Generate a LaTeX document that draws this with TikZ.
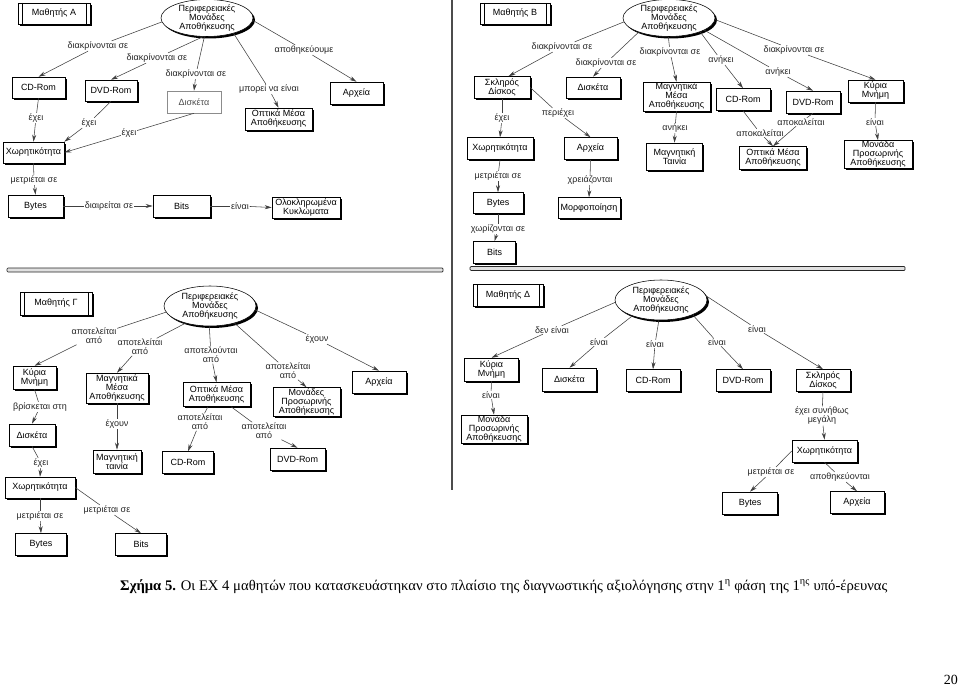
\documentclass[tikz,border=0pt]{standalone}
\usepackage{fontspec}
\setmainfont{Liberation Serif}
\newfontfamily\diagfont{Liberation Sans}
\usetikzlibrary{shapes.geometric,shadows,arrows.meta}
\begin{document}
\begin{tikzpicture}[x=1pt,y=-1pt,
  txt/.style={font=\diagfont\fontsize{9}{9}\selectfont},
  boxbase/.style 2 args={draw=black, line width=0.55pt, fill=white, align=center, inner sep=0pt, minimum width=#1, minimum height=#2, txt},
  box/.style 2 args={boxbase={#1}{#2}, drop shadow={shadow xshift=1.7pt, shadow yshift=-1.7pt, fill=black, opacity=1}},
  lbox/.style 2 args={boxbase={#1}{#2}, draw=black!45, text=black!70, drop shadow={shadow xshift=1.4pt, shadow yshift=-1.4pt, fill=black!45, opacity=1}},
  stud/.style 2 args={box={#1}{#2}, path picture={
     \draw[line width=0.55pt] ([xshift=4pt]path picture bounding box.north west) -- ([xshift=4pt]path picture bounding box.south west);
     \draw[line width=0.55pt] ([xshift=-4pt]path picture bounding box.north east) -- ([xshift=-4pt]path picture bounding box.south east);}},
  ell/.style={ellipse, draw=black, line width=0.55pt, fill=white, inner sep=-1.5pt, minimum width=92, minimum height=37, align=center, txt,
     drop shadow={shadow xshift=2pt, shadow yshift=-2pt, fill=black, opacity=1}},
  lbl/.style={fill=white, inner sep=0.6pt, align=center, txt, text=black!85},
  conn/.style={draw=black!75, line width=0.55pt},
  arr/.style={conn, -{Stealth[length=7pt,width=4pt]}}
]
\useasboundingbox (0,0) rectangle (960,687);
\fill[white] (0,0) rectangle (960,687);

% ---------- separators ----------
\draw[line width=2pt, black!70] (452,0) -- (452,490);
\filldraw[fill=black!12, draw=black!85, line width=0.7pt, rounded corners=1pt] (7,268) rectangle (443,272);
\filldraw[fill=black!12, draw=black!85, line width=0.7pt, rounded corners=1pt] (470,266.5) rectangle (905,270.5);

% ================= Panel A =================
\node[stud={72}{21}] (sA) at (54,13.5) {Μαθητής Α};
\node[ell] (eA) at (207,18) {Περιφερειακές\\Μονάδες\\Αποθήκευσης};
\node[box={53}{21}] (cdA) at (38.5,87.5) {CD-Rom};
\node[box={52}{21}] (dvdA) at (111,90.5) {DVD-Rom};
\node[lbox={54}{22}] (disA) at (194,102) {Δισκέτα};
\node[box={53}{22}] (arxA) at (356.5,93) {Αρχεία};
\node[box={67}{22}] (optA) at (278.5,119) {Οπτικά Μέσα\\Αποθήκευσης};
\node[box={61}{21}] (xwrA) at (33.5,152.5) {Χωρητικότητα};
\node[box={55}{22}] (bytesA) at (35.5,206) {Bytes};
\node[box={57}{22}] (bitsA) at (181.5,206) {Bits};
\node[box={68}{21}] (oloA) at (306,207.5) {Ολοκληρωμένα\\Κυκλώματα};

\node[lbl] (lA1) at (98,46) {διακρίνονται σε};
\node[lbl] (lA2) at (157,58) {διακρίνονται σε};
\node[lbl] (lA3) at (196,74) {διακρίνονται σε};
\node[lbl] (lA4) at (304,50) {αποθηκεύουμε};
\node[lbl] (lA5) at (269,89) {μπορεί να είναι};
\node[lbl] (lA6) at (36,118) {έχει};
\node[lbl] (lA7) at (89,123) {έχει};
\node[lbl] (lA8) at (129,133) {έχει};
\node[lbl] (lA9) at (34,180) {μετριέται σε};
\node[lbl] (lA10) at (109,206) {διαιρείται σε};
\node[lbl] (lA11) at (240,206) {είναι};

\draw[conn] (eA.185) -- (lA1); \draw[arr] (lA1) -- (cdA.north);
\draw[conn] (eA.258) -- (lA2); \draw[arr] (lA2) -- (dvdA.north);
\draw[conn] (eA.262) -- (lA3); \draw[arr] (lA3) -- (disA.north);
\draw[conn] (eA.357) -- (lA4); \draw[arr] (lA4) -- (arxA.north);
\draw[conn] (eA.330) -- (lA5); \draw[arr] (lA5) -- (optA.north);
\draw[conn] (cdA.south) -- (lA6); \draw[arr] (lA6) -- (xwrA.north);
\draw[conn] (dvdA.south) -- (lA7); \draw[arr] (lA7) -- (xwrA.north east);
\draw[conn] (disA.south) -- (lA8); \draw[arr] (lA8) -- (xwrA.east);
\draw[conn] (xwrA.south) -- (lA9); \draw[arr] (lA9) -- (bytesA.north);
\draw[conn] (bytesA.east) -- (lA10); \draw[arr] (lA10) -- (bitsA.west);
\draw[conn] (bitsA.east) -- (lA11); \draw[arr] (lA11) -- (oloA.west);

% ================= Panel B =================
\node[stud={70}{21}] (sB) at (515,13.5) {Μαθητής Β};
\node[ell] (eB) at (669,18) {Περιφερειακές\\Μονάδες\\Αποθήκευσης};
\node[box={56}{22}] (sklB) at (502,87.5) {Σκληρός\\Δίσκος};
\node[box={54}{21}] (disB) at (593,87.5) {Δισκέτα};
\node[box={67}{29}] (magB) at (676.5,96.5) {Μαγνητικά\\Μέσα\\Αποθήκευσης};
\node[box={54}{22}] (cdB) at (743,99.5) {CD-Rom};
\node[box={54}{22}] (dvdB) at (813,102) {DVD-Rom};
\node[box={55}{22}] (kmB) at (875.5,91) {Κύρια\\Μνήμη};
\node[box={67}{23}] (optB) at (773,158) {Οπτικά Μέσα\\Αποθήκευσης};
\node[box={68}{28}] (monB) at (878,154.5) {Μονάδα\\Προσωρινής\\Αποθήκευσης};
\node[box={56}{27}] (tainB) at (674.5,156.5) {Μαγνητική\\Ταινία};
\node[box={66}{22}] (xwrB) at (500,148.5) {Χωρητικότητα};
\node[box={53}{22}] (arxB) at (590.5,148.5) {Αρχεία};
\node[box={50}{21}] (bytesB) at (498,203) {Bytes};
\node[box={62}{21}] (morB) at (589,208) {Μορφοποίηση};
\node[box={42}{22}] (bitsB) at (494.5,252.5) {Bits};

\node[lbl] (lB1) at (562,47) {διακρίνονται σε};
\node[lbl] (lB2) at (606,63) {διακρίνονται σε};
\node[lbl] (lB3) at (670,52) {διακρίνονται σε};
\node[lbl] (lB4) at (721,60) {ανήκει};
\node[lbl] (lB5) at (778,72) {ανήκει};
\node[lbl] (lB6) at (794,50) {διακρίνονται σε};
\node[lbl] (lB7) at (675,128) {ανήκει};
\node[lbl] (lB8) at (760,133) {αποκαλείται};
\node[lbl] (lB9) at (801,122) {αποκαλείται};
\node[lbl] (lB10) at (875,122) {είναι};
\node[lbl] (lB11) at (502,118) {έχει};
\node[lbl] (lB12) at (558,113) {περιέχει};
\node[lbl] (lB13) at (498,176) {μετριέται σε};
\node[lbl] (lB14) at (590,180) {χρειάζονται};
\node[lbl] (lB15) at (498,229) {χωρίζονται σε};

\draw[conn] (eB.185) -- (lB1); \draw[arr] (lB1) -- (sklB.60);
\draw[conn] (eB.205) -- (lB2); \draw[arr] (lB2) -- (disB.north);
\draw[conn] (eB.268) -- (lB3); \draw[arr] (lB3) -- (magB.north);
\draw[conn] (eB.336) -- (lB4); \draw[arr] (lB4) -- (cdB.north);
\draw[conn] (eB.341) -- (lB5); \draw[arr] (lB5) -- (dvdB.north);
\draw[conn] (eB.358) -- (lB6); \draw[arr] (lB6) -- (kmB.north);
\draw[conn] (magB.south) -- (lB7); \draw[arr] (lB7) -- (tainB.north);
\draw[conn] (cdB.south) -- (lB8); \draw[arr] (lB8) -- (optB.north);
\draw[conn] (dvdB.south) -- (lB9); \draw[arr] (lB9) -- (optB.north);
\draw[conn] (kmB.south) -- (lB10); \draw[arr] (lB10) -- (monB.north);
\draw[conn] (sklB.south) -- (lB11); \draw[arr] (lB11) -- (xwrB.north);
\draw[conn] (sklB.east) -- (lB12); \draw[arr] (lB12) -- (arxB.north);
\draw[conn] (xwrB.south) -- (lB13); \draw[arr] (lB13) -- (bytesB.north);
\draw[conn] (arxB.south) -- (lB14); \draw[arr] (lB14) -- (morB.north);
\draw[conn] (bytesB.south) -- (lB15); \draw[arr] (lB15) -- (bitsB.north);

% ================= Panel C =================
\node[stud={72}{23}] (sC) at (56,303.5) {Μαθητής Γ};
\node[ell, minimum height=40] (eC) at (210,306) {Περιφερειακές\\Μονάδες\\Αποθήκευσης};
\node[box={43}{23}] (kmC) at (34.5,377.5) {Κύρια\\Μνήμη};
\node[box={62}{30}] (magC) at (117,388) {Μαγνητικά\\Μέσα\\Αποθήκευσης};
\node[box={67}{24}] (optC) at (216.5,394.5) {Οπτικά Μέσα\\Αποθήκευσης};
\node[box={67}{29}] (monC) at (306.5,402) {Μονάδες\\Προσωρινής\\Αποθήκευσης};
\node[box={54}{22}] (arxC) at (379,382) {Αρχεία};
\node[box={46}{22}] (disC) at (32,435) {Δισκέτα};
\node[box={70}{21}] (xwrC) at (40,487.5) {Χωρητικότητα};
\node[box={51}{22}] (bytesC) at (41,544.5) {Bytes};
\node[box={51}{22}] (bitsC) at (141,544.5) {Bits};
\node[box={48}{23}] (tainC) at (117,461.5) {Μαγνητική\\ταινία};
\node[box={51}{22}] (cdC) at (188,462.5) {CD-Rom};
\node[box={55}{22}] (dvdC) at (297.5,459) {DVD-Rom};

\node[lbl] (lC1) at (94,336) {αποτελείται\\από};
\node[lbl] (lC2) at (140,347) {αποτελείται\\από};
\node[lbl] (lC3) at (211,355) {αποτελούνται\\από};
\node[lbl] (lC4) at (288,371) {αποτελείται\\από};
\node[lbl] (lC5) at (317,339) {έχουν};
\node[lbl] (lC6) at (40,407) {βρίσκεται στη};
\node[lbl] (lC7) at (117,424) {έχουν};
\node[lbl] (lC8) at (41,463) {έχει};
\node[lbl] (lC9) at (200,422) {αποτελείται\\από};
\node[lbl] (lC10) at (264,431) {αποτελείται\\από};
\node[lbl] (lC11) at (40,516) {μετριέται σε};
\node[lbl] (lC12) at (107,510) {μετριέται σε};

\draw[conn] (eC.188) -- (lC1); \draw[arr] (lC1) -- (kmC.north);
\draw[conn] (eC.215) -- (lC2); \draw[arr] (lC2) -- (magC.north);
\draw[conn] (eC.268) -- (lC3); \draw[arr] (lC3) -- (optC.north);
\draw[conn] (eC.325) -- (lC4); \draw[arr] (lC4) -- (monC.north);
\draw[conn] (eC.355) -- (lC5); \draw[arr] (lC5) -- (arxC.north);
\draw[conn] (kmC.south) -- (lC6); \draw[arr] (lC6) -- (disC.north);
\draw[conn] (magC.south) -- (lC7); \draw[arr] (lC7) -- (tainC.north);
\draw[conn] (disC.south) -- (lC8); \draw[arr] (lC8) -- (xwrC.north);
\draw[conn] (optC.235) -- (lC9); \draw[arr] (lC9) -- (cdC.north);
\draw[conn] (optC.320) -- (lC10); \draw[arr] (lC10) -- (dvdC.north);
\draw[conn] (xwrC.south) -- (lC11); \draw[arr] (lC11) -- (bytesC.north);
\draw[conn] (xwrC.east) -- (lC12); \draw[arr] (lC12) -- (bitsC.north);

% ================= Panel D =================
\node[stud={70}{22}] (sD) at (508,295) {Μαθητής Δ};
\node[ell, minimum height=40] (eD) at (661,300) {Περιφερειακές\\Μονάδες\\Αποθήκευσης};
\node[box={54}{23}] (kmD) at (491.5,369.5) {Κύρια\\Μνήμη};
\node[box={66}{28}] (monD) at (494,429) {Μονάδα\\Προσωρινής\\Αποθήκευσης};
\node[box={54}{23}] (disD) at (569.5,379.5) {Δισκέτα};
\node[box={54}{22}] (cdD) at (653,380.5) {CD-Rom};
\node[box={54}{22}] (dvdD) at (743,380.5) {DVD-Rom};
\node[box={54}{22}] (sklD) at (823,380.5) {Σκληρός\\Δίσκος};
\node[box={65}{22}] (xwrD) at (824.5,451) {Χωρητικότητα};
\node[box={55}{22}] (bytesD) at (750,503) {Bytes};
\node[box={54}{22}] (arxD) at (857,502.5) {Αρχεία};

\node[lbl] (lD1) at (552,330) {δεν είναι};
\node[lbl] (lD2) at (491,395) {είναι};
\node[lbl] (lD3) at (599,342) {είναι};
\node[lbl] (lD4) at (655,344) {είναι};
\node[lbl] (lD5) at (717,342) {είναι};
\node[lbl] (lD6) at (757,329) {είναι};
\node[lbl] (lD7) at (822,416) {έχει συνήθως\\μεγάλη};
\node[lbl] (lD8) at (771,472) {μετριέται σε};
\node[lbl] (lD9) at (840,477) {αποθηκεύονται};

\draw[conn] (eD.183) -- (lD1); \draw[arr] (lD1) -- (kmD.north);
\draw[conn] (eD.209) -- (lD3); \draw[arr] (lD3) -- (disD.north);
\draw[conn] (eD.264) -- (lD4); \draw[arr] (lD4) -- (cdD.north);
\draw[conn] (eD.335) -- (lD5); \draw[arr] (lD5) -- (dvdD.north);
\draw[conn] (eD.5) -- (lD6); \draw[arr] (lD6) -- (sklD.north);
\draw[conn] (kmD.south) -- (lD2); \draw[arr] (lD2) -- (monD.north);
\draw[conn] (sklD.south) -- (lD7); \draw[arr] (lD7) -- (xwrD.north);
\draw[conn] (xwrD.west) -- (lD8); \draw[arr] (lD8) -- (bytesD.north);
\draw[conn] (xwrD.south) -- (lD9); \draw[arr] (lD9) -- (arxD.north);

% ================= Caption =================
\node[anchor=base west, inner sep=0pt, font=\fontsize{14.65}{16}\selectfont] (cap) at (120,590)
  {\textbf{Σχήμα 5.} Οι ΕΧ 4 μαθητών που κατασκευάστηκαν στο πλαίσιο της διαγνωστικής αξιολόγησης στην 1\textsuperscript{η} φάση της 1\textsuperscript{ης} υπό-έρευνας};
\node[anchor=base east, inner sep=0pt, font=\fontsize{14}{16}\selectfont] (pg) at (958,684) {20};
\end{tikzpicture}
\end{document}
